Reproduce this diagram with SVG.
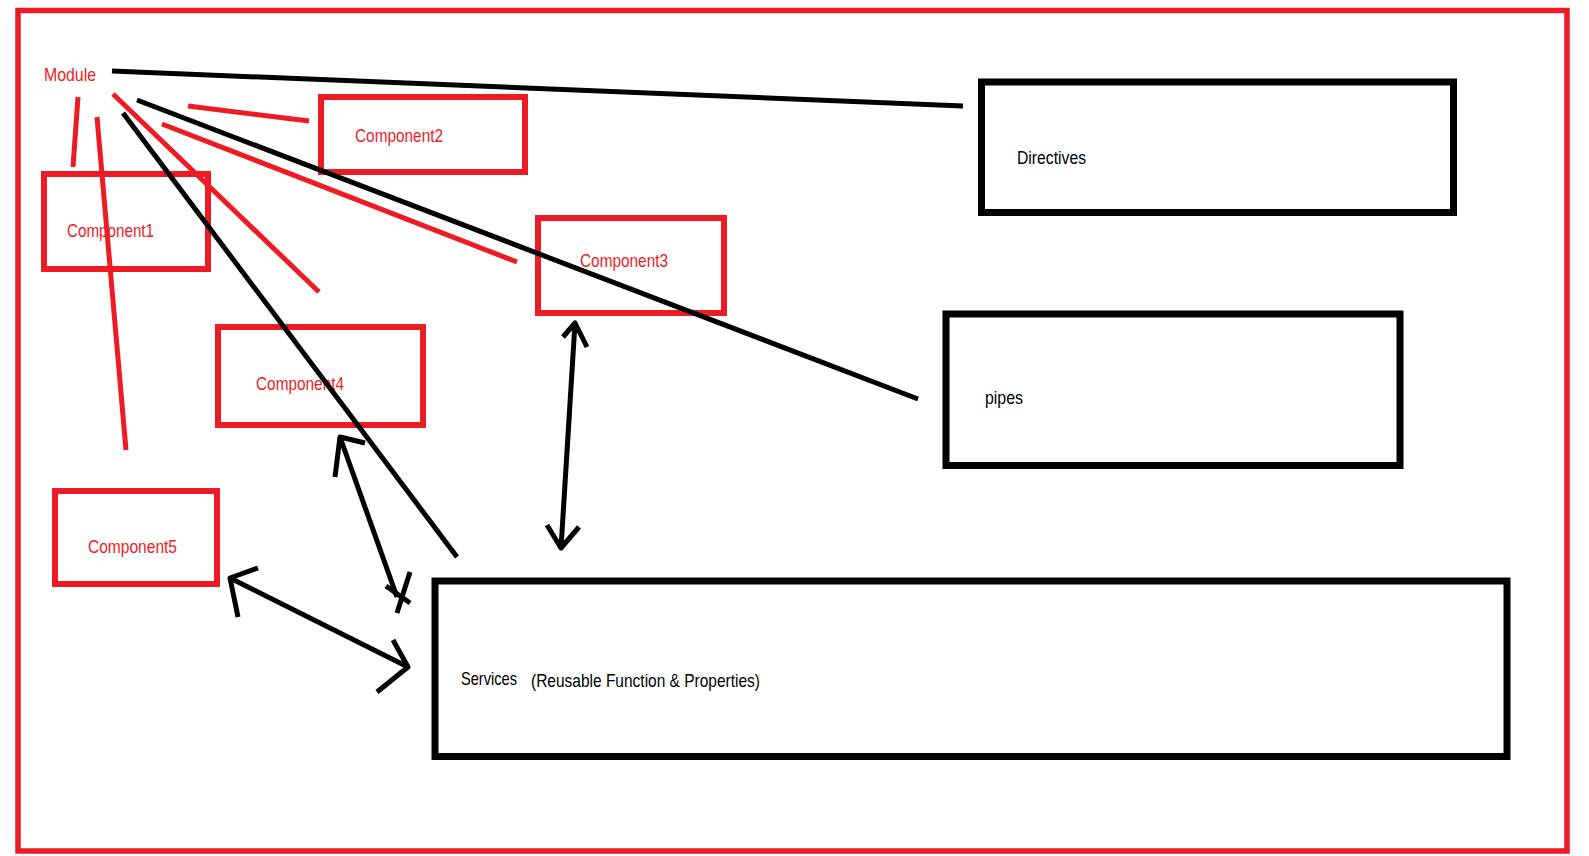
<svg xmlns="http://www.w3.org/2000/svg" width="1589" height="856" viewBox="0 0 1589 856">
<style>
.frame{fill:none;stroke:#ED1C24;stroke-width:5.5}
.rbox{fill:none;stroke:#ED1C24;stroke-width:6}
.bbox{fill:none;stroke:#000;stroke-width:7}
.rtxt{font-family:"Liberation Sans",Arial,sans-serif;fill:#ED1C24;font-size:19px}
.btxt{font-family:"Liberation Sans",Arial,sans-serif;fill:#000;font-size:19px}
.rl{fill:none;stroke:#ED1C24;stroke-width:5}
.bl{fill:none;stroke:#000;stroke-width:5}
.ah{fill:none;stroke:#000;stroke-width:5;stroke-linejoin:round}
</style>
<rect width="1589" height="856" fill="#fff"/>
<rect class="frame" x="18" y="10.5" width="1549" height="840.5"/>

<g id="module">
<text class="rtxt" x="44" y="81" font-size="21" textLength="52" lengthAdjust="spacingAndGlyphs">Module</text>
</g>
<g id="component1">
<rect class="rbox" x="44" y="174" width="164" height="95"/>
<text class="rtxt" x="67" y="237" textLength="87" lengthAdjust="spacingAndGlyphs">Component1</text>
</g>
<g id="component2">
<rect class="rbox" x="321" y="97" width="204" height="75"/>
<text class="rtxt" x="355" y="142" textLength="88" lengthAdjust="spacingAndGlyphs">Component2</text>
</g>
<g id="component3">
<rect class="rbox" x="538" y="218" width="186" height="95"/>
<text class="rtxt" x="580" y="267" textLength="88" lengthAdjust="spacingAndGlyphs">Component3</text>
</g>
<g id="component4">
<rect class="rbox" x="218" y="327" width="205" height="98"/>
<text class="rtxt" x="256" y="390" textLength="88" lengthAdjust="spacingAndGlyphs">Component4</text>
</g>
<g id="component5">
<rect class="rbox" x="55" y="491" width="162" height="93"/>
<text class="rtxt" x="88" y="553" textLength="89" lengthAdjust="spacingAndGlyphs">Component5</text>
</g>
<g id="directives">
<rect class="bbox" x="981.5" y="82" width="472" height="130.5"/>
<text class="btxt" x="1017" y="164" textLength="69" lengthAdjust="spacingAndGlyphs">Directives</text>
</g>
<g id="pipes">
<rect class="bbox" x="946" y="314" width="454" height="151.5"/>
<text class="btxt" x="985" y="404" textLength="38" lengthAdjust="spacingAndGlyphs">pipes</text>
</g>
<g id="services">
<rect class="bbox" x="435" y="581" width="1072" height="175.5"/>
<text class="btxt" x="461" y="685" textLength="56" lengthAdjust="spacingAndGlyphs">Services</text>
<text class="btxt" x="531" y="687" textLength="229" lengthAdjust="spacingAndGlyphs">(Reusable Function &amp; Properties)</text>
</g>

<g id="connectors">
<line class="rl" x1="78" y1="97" x2="73" y2="167" stroke-width="4"/>
<line class="rl" x1="97" y1="117" x2="126" y2="450" stroke-width="4"/>
<line class="rl" x1="113" y1="94" x2="319" y2="292"/>
<line class="rl" x1="188" y1="106" x2="309" y2="121" stroke-width="7"/>
<line class="rl" x1="162" y1="124" x2="517" y2="262" stroke-width="6"/>
<line class="bl" x1="112" y1="71" x2="963" y2="106" stroke-width="6"/>
<line class="bl" x1="137" y1="100" x2="918" y2="399"/>
<line class="bl" x1="123" y1="113" x2="457" y2="557"/>
<line class="bl" x1="340" y1="437" x2="397" y2="597"/>
<polyline class="ah" points="335,477 340,437 365,443"/>
<line class="bl" x1="410" y1="572" x2="397" y2="613"/>
<line class="bl" x1="386" y1="586" x2="410" y2="603"/>
<line class="bl" x1="230" y1="578" x2="408" y2="667"/>
<polyline class="ah" points="258,568 230,578 238,617"/>
<polyline class="ah" points="393,640 408,667 377,692"/>
<line class="bl" x1="575" y1="323" x2="561" y2="548"/>
<polyline class="ah" points="563,337 575,323 587,347"/>
<polyline class="ah" points="547,525 561,548 579,527"/>
</g>
</svg>
